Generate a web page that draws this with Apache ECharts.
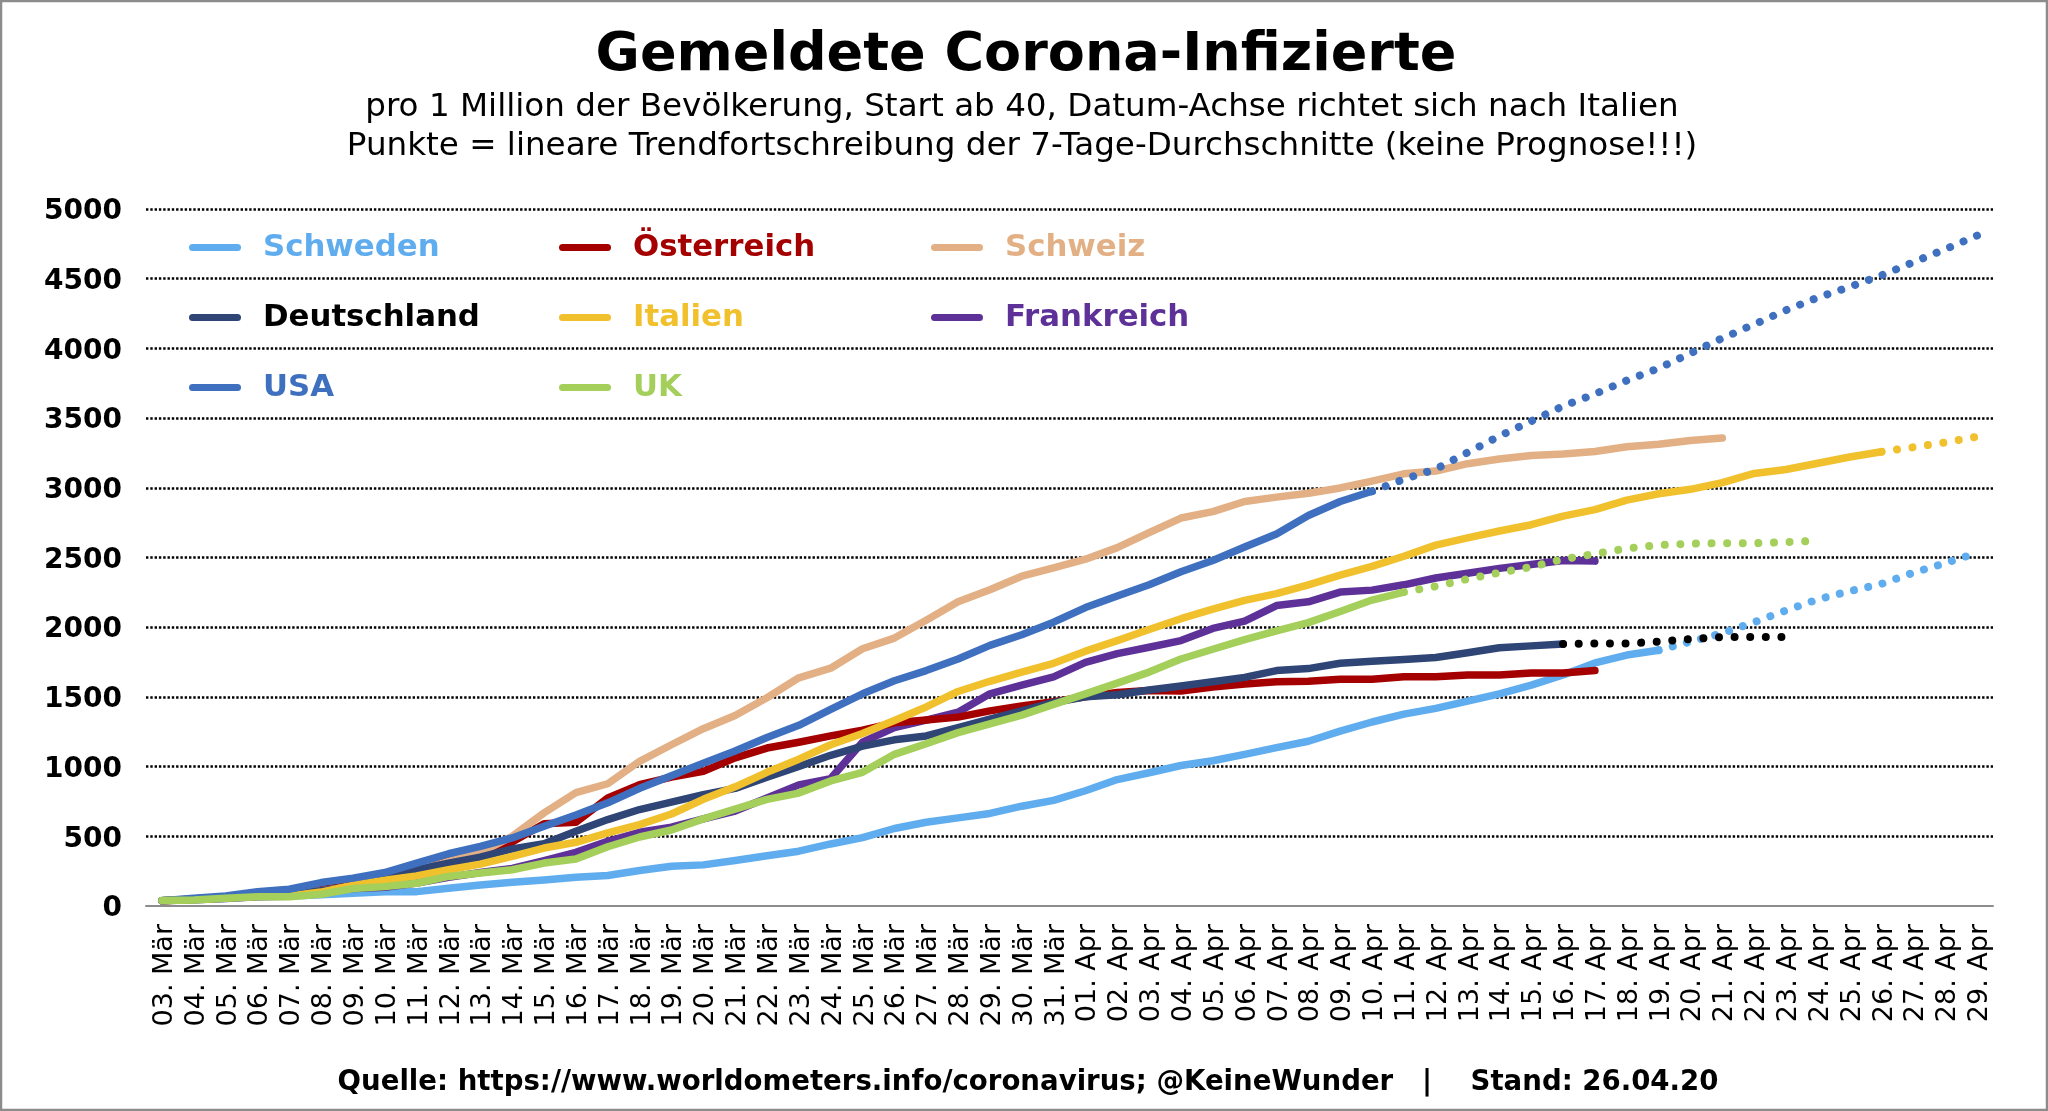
<!DOCTYPE html>
<html>
<head>
<meta charset="utf-8">
<title>Gemeldete Corona-Infizierte</title>
<script src="https://cdn.jsdelivr.net/npm/echarts@6/dist/echarts.min.js"></script>
<style>
  html, body { margin: 0; padding: 0; background: #fff; }
  #chart { width: 2048px; height: 1111px; }
</style>
</head>
<body>
<div id="chart"></div>
<script>
const days = [
  '03. Mär','04. Mär','05. Mär','06. Mär','07. Mär','08. Mär','09. Mär','10. Mär','11. Mär','12. Mär',
  '13. Mär','14. Mär','15. Mär','16. Mär','17. Mär','18. Mär','19. Mär','20. Mär','21. Mär','22. Mär',
  '23. Mär','24. Mär','25. Mär','26. Mär','27. Mär','28. Mär','29. Mär','30. Mär','31. Mär',
  '01. Apr','02. Apr','03. Apr','04. Apr','05. Apr','06. Apr','07. Apr','08. Apr','09. Apr','10. Apr',
  '11. Apr','12. Apr','13. Apr','14. Apr','15. Apr','16. Apr','17. Apr','18. Apr','19. Apr','20. Apr',
  '21. Apr','22. Apr','23. Apr','24. Apr','25. Apr','26. Apr','27. Apr','28. Apr','29. Apr'
];

// measured values, solid lines start at 03. Mär
const schweden = [40,45,55,68,72,80,92,103,103,127,151,170,187,207,219,255,285,295,327,361,393,445,490,556,601,632,664,716,758,827,907,956,1008,1042,1088,1136,1182,1254,1320,1376,1418,1470,1522,1585,1657,1744,1800,1835];
const oesterreich = [38,50,65,80,85,120,150,180,240,330,390,460,590,600,775,870,925,966,1063,1133,1175,1220,1261,1314,1334,1355,1400,1435,1466,1501,1532,1546,1543,1571,1592,1609,1612,1626,1626,1644,1644,1657,1657,1671,1671,1689];
const schweiz = [38,48,62,75,80,110,140,180,250,320,385,500,668,813,877,1038,1157,1272,1366,1494,1637,1706,1845,1922,2050,2182,2269,2366,2425,2488,2571,2679,2783,2829,2902,2933,2961,2999,3048,3100,3120,3173,3207,3232,3242,3260,3294,3312,3339,3357];
const deutschland = [38,48,60,75,85,110,140,190,260,308,351,409,447,536,620,692,745,799,844,924,1001,1081,1147,1192,1220,1279,1341,1400,1460,1501,1515,1550,1578,1609,1640,1689,1703,1741,1755,1769,1783,1817,1852,1866,1880];
const italien = [38,46,58,70,72,100,150,185,216,260,300,356,416,457,524,584,660,765,855,959,1053,1157,1237,1331,1428,1539,1612,1678,1741,1828,1904,1984,2061,2130,2193,2241,2304,2373,2436,2509,2589,2641,2690,2735,2797,2843,2912,2957,2989,3037,3103,3131,3176,3221,3259];
const frankreich = [38,44,54,66,70,100,125,135,165,205,240,270,325,385,464,529,565,625,681,775,869,914,1175,1279,1334,1390,1522,1585,1644,1748,1810,1856,1904,1991,2043,2155,2182,2252,2266,2304,2353,2387,2422,2450,2478,2474];
const usa = [38,55,72,103,120,168,200,240,308,375,428,488,572,653,740,844,935,1025,1112,1209,1296,1411,1522,1616,1689,1772,1870,1946,2036,2141,2224,2304,2398,2478,2575,2669,2801,2902,2975];
const uk = [40,43,55,67,67,84,125,139,163,212,236,260,308,337,425,495,545,625,695,765,810,897,959,1088,1164,1244,1307,1369,1446,1522,1599,1678,1772,1842,1911,1974,2033,2113,2195,2252];

// dotted trend lines, each starts at the last solid point
const schwedenTrendStart = 47;
const schwedenTrend = [1835,1897,1956,2036,2120,2200,2259,2311,2391,2460,2533];
const deutschlandTrendStart = 44;
const deutschlandTrend = [1880,1883,1883,1897,1915,1929,1929,1929];
const italienTrendStart = 54;
const italienTrend = [3259,3291,3325,3367];
const usaTrendStart = 38;
const usaTrend = [2975,3061,3134,3253,3371,3478,3586,3673,3770,3857,3965,4073,4173,4274,4365,4441,4524,4618,4712,4809];
const ukTrendStart = 39;
const ukTrend = [2252,2293,2346,2391,2432,2488,2526,2565,2589,2599,2603,2603,2610,2620];

const colors = {
  Schweden: '#5fadee', 'Österreich': '#a50000', Schweiz: '#e2b084', Deutschland: '#2f4575',
  Italien: '#f1c02d', Frankreich: '#5e3198', USA: '#3f70bf', UK: '#a3cf5a'
};

const FONT = '"DejaVu Sans"';
const pill = 'path://M3.5 0H48.5A3.5 3.5 0 0 1 48.5 7H3.5A3.5 3.5 0 0 1 3.5 0Z';

function solid(name, data) {
  return {
    name, type: 'line', data, symbol: 'none', silent: true,
    itemStyle: { color: colors[name] },
    lineStyle: { color: colors[name], width: 7.5, cap: 'round', join: 'round' }
  };
}

function trend(name, start, data, color, gap) {
  return {
    name, type: 'line', symbol: 'none', silent: true,
    data: data.map((v, i) => [start + i, v]),
    itemStyle: { color },
    lineStyle: { color, width: 8, cap: 'round', type: [0.01, gap] }
  };
}

function legendColumn(left, names) {
  return {
    left, top: 227, orient: 'vertical', itemGap: 39, selectedMode: false,
    itemWidth: 52, itemHeight: 8, icon: pill,
    data: names,
    textStyle: { color: 'inherit', fontFamily: FONT, fontWeight: 'bold', fontSize: 30.8, padding: [0, 0, 0, 17] }
  };
}

const chart = echarts.init(document.getElementById('chart'));
chart.setOption({
  animation: false,
  backgroundColor: '#fff',
  title: [
    { text: 'Gemeldete Corona-Infizierte', left: 1021, top: 24, textAlign: 'center',
      textStyle: { fontFamily: FONT, fontWeight: 'bold', fontSize: 54, color: '#000' } },
    { text: 'pro 1 Million der Bevölkerung, Start ab 40, Datum-Achse richtet sich nach Italien', left: 1017, top: 86, textAlign: 'center',
      textStyle: { fontFamily: FONT, fontWeight: 'normal', fontSize: 32.6, color: '#000' } },
    { text: 'Punkte = lineare Trendfortschreibung der 7-Tage-Durchschnitte (keine Prognose!!!)', left: 1017, top: 125, textAlign: 'center',
      textStyle: { fontFamily: FONT, fontWeight: 'normal', fontSize: 32.6, color: '#000' } },
    { text: 'Quelle: https://www.worldometers.info/coronavirus; @KeineWunder   |    Stand: 26.04.20', left: 1023, top: 1064, textAlign: 'center',
      textStyle: { fontFamily: FONT, fontWeight: 'bold', fontSize: 27.6, color: '#000' } }
  ],
  legend: [
    legendColumn(184, ['Schweden', { name: 'Deutschland', textStyle: { color: '#000' } }, 'USA']),
    legendColumn(554, ['Österreich', 'Italien', 'UK']),
    legendColumn(926, ['Schweiz', 'Frankreich'])
  ],
  grid: { left: 146, right: 55, top: 209, height: 697 },
  xAxis: {
    type: 'category', data: days, boundaryGap: true,
    axisLine: { lineStyle: { color: '#8c8c8c', width: 2 } },
    axisTick: { show: false },
    axisLabel: {
      interval: 0, rotate: 90, margin: 18,
      formatter: v => '{a|' + v + '}',
      rich: { a: { fontFamily: FONT, fontSize: 27, color: '#000', padding: [6, 0, 0, 0] } }
    }
  },
  yAxis: {
    type: 'value', min: 0, max: 5000, interval: 500,
    axisLine: { show: false },
    axisTick: { show: false },
    axisLabel: {
      margin: 24,
      formatter: v => '{a|' + v + '}',
      rich: { a: { fontFamily: FONT, fontWeight: 'bold', fontSize: 28, color: '#000', padding: [6, 0, 0, 0] } }
    },
    splitLine: { showMinLine: false, lineStyle: { color: '#000', width: 2.5, type: [2.4, 1.9] } }
  },
  series: [
    solid('Schweden', schweden),
    solid('Frankreich', frankreich),
    solid('Österreich', oesterreich),
    solid('Schweiz', schweiz),
    solid('Deutschland', deutschland),
    solid('Italien', italien),
    solid('USA', usa),
    solid('UK', uk),
    trend('Schweden Trend', schwedenTrendStart, schwedenTrend, colors.Schweden, 14.6),
    trend('USA Trend', usaTrendStart, usaTrend, colors.USA, 14.6),
    trend('Italien Trend', italienTrendStart, italienTrend, colors.Italien, 15.6),
    trend('UK Trend', ukTrendStart, ukTrend, colors.UK, 15.6),
    trend('Deutschland Trend', deutschlandTrendStart, deutschlandTrend, '#000', 15.6)
  ],
  graphic: [{
    type: 'rect', silent: true, z: 100,
    shape: { x: 1, y: 1, width: 2046, height: 1109 },
    style: { fill: null, stroke: '#8c8c8c', lineWidth: 2.5 }
  }]
});
</script>
</body>
</html>
